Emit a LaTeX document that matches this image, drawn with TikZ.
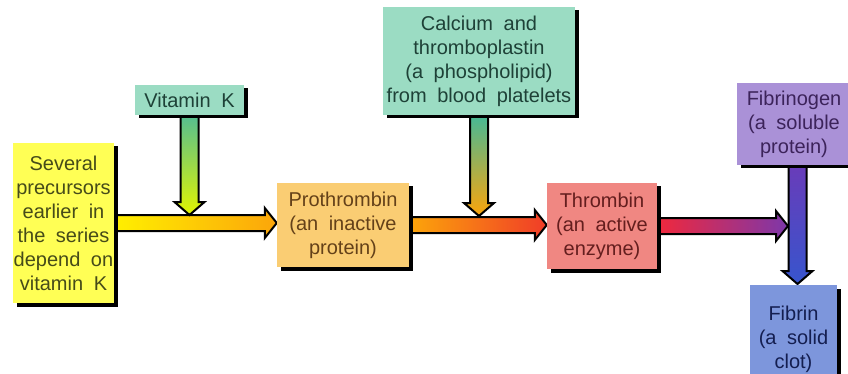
\documentclass[tikz,border=0pt]{standalone}
\usepackage{fontspec}
\setmainfont[WordSpace=1.9]{Liberation Sans}
\usetikzlibrary{calc,shadows}
\definecolor{cyel}{RGB}{255,255,85}
\definecolor{tyel}{RGB}{70,75,25}
\definecolor{cteal}{RGB}{155,220,195}
\definecolor{tteal}{RGB}{30,65,55}
\definecolor{corg}{RGB}{250,205,115}
\definecolor{torg}{RGB}{100,65,25}
\definecolor{cred}{RGB}{240,135,130}
\definecolor{tred}{RGB}{100,30,30}
\definecolor{cpur}{RGB}{170,145,215}
\definecolor{tpur}{RGB}{60,35,90}
\definecolor{cblu}{RGB}{125,150,220}
\definecolor{tblu}{RGB}{20,30,80}
% arrow gradient colours
\definecolor{gyel}{RGB}{255,240,0}
\definecolor{gorg}{RGB}{252,165,10}
\definecolor{gred}{RGB}{240,60,40}
\definecolor{gred2}{RGB}{240,40,60}
\definecolor{gpur}{RGB}{125,55,170}
\definecolor{gpur2}{RGB}{105,60,185}
\definecolor{gblu}{RGB}{55,85,205}
\definecolor{gteal}{RGB}{85,190,145}
\definecolor{gteal2}{RGB}{70,185,150}
\definecolor{glime}{RGB}{225,245,0}
\newcommand\myHarrow[4]{% start, tip, left colour, right colour
  \path[fatarrow, left color=#3, right color=#4]
    ($(#1)+(0,-8)$) -- ($(#1 -| #2)+(-12,-8)$) -- ($(#1 -| #2)+(-12,-15)$)
    -- (#1 -| #2) -- ($(#1 -| #2)+(-12,15)$) -- ($(#1 -| #2)+(-12,8)$)
    -- ($(#1)+(0,8)$) -- cycle;}
\newcommand\myVarrow[4]{% start, tip, top colour, bottom colour
  \path[fatarrow, top color=#3, bottom color=#4]
    ($(#1)+(-9,0)$) -- ($(#2 -| #1)+(-9,-13)$) -- ($(#2 -| #1)+(-15,-13)$)
    -- (#2 -| #1) -- ($(#2 -| #1)+(15,-13)$) -- ($(#2 -| #1)+(9,-13)$)
    -- ($(#1)+(9,0)$) -- cycle;}
\begin{document}
\begin{tikzpicture}[x=1pt,y=-1pt,
  box/.style={rectangle, inner sep=0pt, align=center,
    font=\fontsize{20}{24}\selectfont,
    drop shadow={shadow xshift=3.5pt,shadow yshift=-3.5pt,fill=black,opacity=1}},
  fatarrow/.style={draw=black, line width=2pt, line join=miter}]
\useasboundingbox (0,0) rectangle (848,374);
% nodes (boxes)
\path
  node[box, fill=cyel, text=tyel, minimum width=101pt, minimum height=160pt] (pre) at (63.5,223)
    {Several\\precursors\\earlier in\\the series\\depend on\\vitamin K}
  node[box, fill=cteal, text=tteal, minimum width=109pt, minimum height=30pt] (vitk) at (189.5,100)
    {Vitamin K}
  node[box, fill=cteal, text=tteal, minimum width=192pt, minimum height=108pt] (calc) at (479,61)
    {Calcium and\\thromboplastin\\(a phospholipid)\\from blood platelets}
  node[box, fill=corg, text=torg, minimum width=132pt, minimum height=84pt] (pro) at (343,225)
    {Prothrombin\\(an inactive\\protein)}
  node[box, fill=cred, text=tred, minimum width=110pt, minimum height=86pt] (thr) at (602,226)
    {Thrombin\\(an active\\enzyme)}
  node[box, fill=cpur, text=tpur, minimum width=114pt, minimum height=82pt] (fibg) at (794,124)
    {Fibrinogen\\(a soluble\\protein)}
  node[box, fill=cblu, text=tblu, minimum width=87pt, minimum height=108pt] (fibn) at (793.5,339)
    {Fibrin\\(a solid\\clot)};
% connectors
\coordinate (v4top) at (797.5,165);
\coordinate (v4tip) at (797.5,284);
\coordinate (a3tip) at (788,226);
\coordinate (v1tip) at ($(vitk.south |- pre.east)+(0,-8)$);
\coordinate (v2tip) at ($(calc.south |- pro.east)+(0,-9)$);
\myHarrow{pre.east}{pro.west}{gyel}{gorg}
\myHarrow{pro.east}{thr.west}{gorg}{gred}
\myHarrow{thr.east}{a3tip}{gred2}{gpur}
\myVarrow{vitk.south}{v1tip}{gteal}{glime}
\myVarrow{calc.south}{v2tip}{gteal2}{gorg}
\myVarrow{v4top}{v4tip}{gpur2}{gblu}
% boxes drawn again on top of the arrow ends
\node[box, fill=cyel, text=tyel, minimum width=101pt, minimum height=160pt] at (pre)
    {Several\\precursors\\earlier in\\the series\\depend on\\vitamin K};
\node[box, fill=cteal, text=tteal, minimum width=109pt, minimum height=30pt] at (vitk) {Vitamin K};
\node[box, fill=cteal, text=tteal, minimum width=192pt, minimum height=108pt] at (calc)
    {Calcium and\\thromboplastin\\(a phospholipid)\\from blood platelets};
\node[box, fill=corg, text=torg, minimum width=132pt, minimum height=84pt] at (pro)
    {Prothrombin\\(an inactive\\protein)};
\node[box, fill=cred, text=tred, minimum width=110pt, minimum height=86pt] at (thr)
    {Thrombin\\(an active\\enzyme)};
\node[box, fill=cpur, text=tpur, minimum width=114pt, minimum height=82pt] at (fibg)
    {Fibrinogen\\(a soluble\\protein)};
\node[box, fill=cblu, text=tblu, minimum width=87pt, minimum height=108pt] at (fibn)
    {Fibrin\\(a solid\\clot)};
\end{tikzpicture}
\end{document}
